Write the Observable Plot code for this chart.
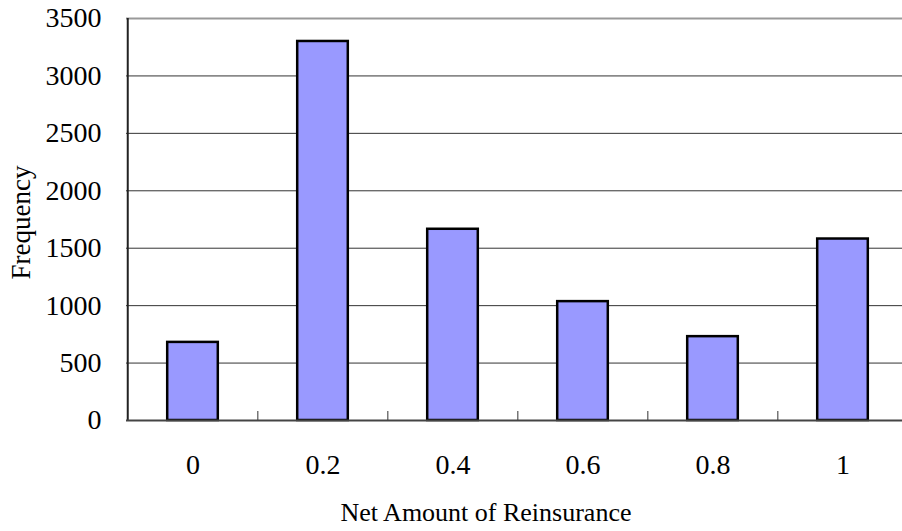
<!DOCTYPE html>
<html>
<head>
<meta charset="utf-8">
<script src="https://cdn.jsdelivr.net/npm/d3@7"></script>
<script src="https://cdn.jsdelivr.net/npm/@observablehq/plot@0.6"></script>
<style>
  html, body { margin: 0; padding: 0; background: #fff; overflow: hidden; }
</style>
</head>
<body>
<div id="chart"></div>
<script>
const categories = ["0", "0.2", "0.4", "0.6", "0.8", "1"];
const frequency = [680, 3300, 1665, 1035, 730, 1580];
const yTicks = [0, 500, 1000, 1500, 2000, 2500, 3000, 3500];
const xTitle = "Net Amount of Reinsurance";
const yTitle = "Frequency";

const data = categories.map((c, i) => ({category: c, value: frequency[i]}));

const width = 902, height = 531;
const marginLeft = 126, marginRight = -7, marginTop = 18, marginBottom = 111;
const step = (width - marginRight - marginLeft) / categories.length;

const chart = Plot.plot({
  width, height, marginLeft, marginRight, marginTop, marginBottom,
  style: {fontFamily: "'Liberation Serif', 'Times New Roman', serif", background: "#fff", color: "#000"},
  x: {type: "band", domain: categories, paddingInner: 0.59, paddingOuter: 0.295, axis: null, label: null},
  y: {domain: [0, 3500], axis: null, label: null},
  marks: [
    Plot.ruleY(yTicks.slice(1, -1), {stroke: "#333", strokeWidth: 1}),
    Plot.ruleY([yTicks[yTicks.length - 1]], {stroke: "#999", strokeWidth: 2}),
    Plot.barY(data, {x: "category", y: "value", fill: "#9999ff", stroke: "#000", strokeWidth: 2.5, insetLeft: 1.2, insetRight: 1.2}),
    Plot.ruleX(categories.slice(1), {x: d => d, dx: -step / 2, insetTop: height - marginTop - marginBottom - 9, stroke: "#777", strokeWidth: 1.5}),
    Plot.ruleX([categories[0]], {x: d => d, dx: -step / 2, stroke: "#222", strokeWidth: 2}),
    Plot.ruleY([0], {stroke: "#444", strokeWidth: 2}),
    Plot.axisY({ticks: yTicks, tickSize: 0, tickPadding: 25, fontSize: 28, tickFormat: d => String(d), label: null}),
    Plot.axisX({tickSize: 0, tickPadding: 34, fontSize: 28, label: null}),
    Plot.text([xTitle], {frameAnchor: "bottom", dx: -32, dy: 92, lineAnchor: "middle", textAnchor: "middle", fontSize: 26, fill: "#000"}),
    Plot.text([yTitle], {frameAnchor: "left", rotate: -90, dx: -105, dy: 3, lineAnchor: "middle", textAnchor: "middle", fontSize: 27, fill: "#000"})
  ]
});
document.getElementById("chart").appendChild(chart);
</script>
</body>
</html>
